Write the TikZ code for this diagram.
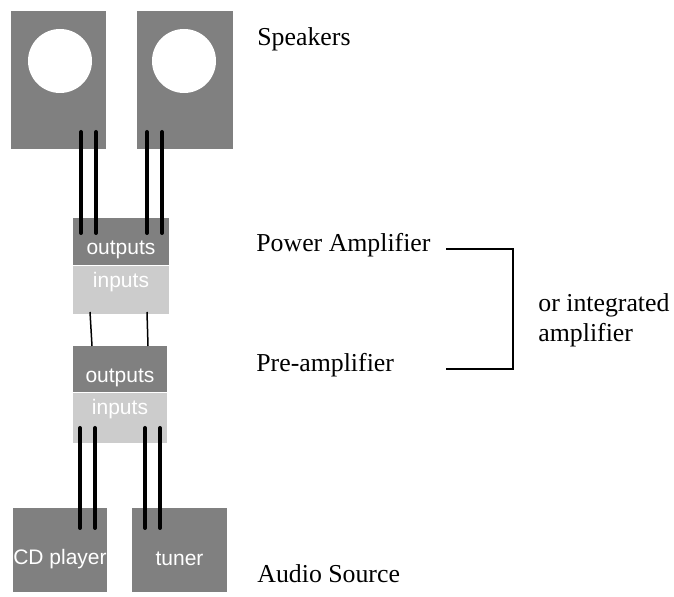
\documentclass[tikz,border=0pt]{standalone}
\usepackage{fontspec}
\setmainfont{Liberation Serif}
\setsansfont{Liberation Sans}
\usepackage{xcolor}
\usepackage{tikz}

\definecolor{boxdark}{RGB}{128,128,128}
\definecolor{boxlight}{RGB}{204,204,204}

\begin{document}
\begin{tikzpicture}[x=0.5pt,y=-0.5pt]
		\tikzset{
			dark/.style={fill=boxdark,draw=none,inner sep=0pt,text=white,font=\sffamily\fontsize{10.3}{12}\selectfont},
			light/.style={fill=boxlight,draw=none,inner sep=0pt,text=white,font=\sffamily\fontsize{10.3}{12}\selectfont},
			boxtext/.style={text=white,inner sep=0pt,font=\sffamily\fontsize{10.5}{12}\selectfont},
			cable/.style={black,line width=2pt,line cap=round},
			wire/.style={black,line width=0.75pt},
			bracket/.style={black,line width=0.7pt},
			label/.style={anchor=west,inner sep=0pt,font=\fontsize{12.9}{15}\selectfont}
		}
		\useasboundingbox (0,0) rectangle (674,597);
		% speakers
		\node [dark,minimum width=47.5pt,minimum height=69pt] (spkL) at (58.5,80) {};
		\node [dark,minimum width=48pt,minimum height=69pt] (spkR) at (185,80) {};
		\fill [white] (60,61) circle (32);
		\fill [white] (184,61) circle (32);
		% power amplifier
		\node [dark,minimum width=48pt,minimum height=23.5pt] (powout) at (121,241.5) {};
		\node [light,minimum width=48pt,minimum height=24pt,anchor=north] (powin) at (powout.south) {};
		\node [boxtext] at (121,250) {outputs};
		\node [boxtext] at (121,282) {inputs};
		% pre-amplifier
		\node [dark,minimum width=47pt,minimum height=23pt] (preout) at (120,369) {};
		\node [light,minimum width=47pt,minimum height=25pt,anchor=north] (prein) at (preout.south) {};
		\node [boxtext] at (120,378) {outputs};
		\node [boxtext] at (120,409) {inputs};
		% sources
		\node [dark,minimum width=47pt,minimum height=42pt] (cd) at (60,550) {};
		\node [dark,minimum width=47.5pt,minimum height=42pt] (tuner) at (179.5,550) {};
		\node [boxtext] at (60,559) {CD player};
		\node [boxtext] at (179.5,559) {tuner};
		% speaker cables
		\draw [cable] (81,132) -- (81,233);
		\draw [cable] (96,132) -- (96,233);
		\draw [cable] (147,132) -- (147,233);
		\draw [cable] (162,132) -- (162,233);
		% interconnect
		\draw [wire] (90,312) -- (92,346);
		\draw [wire] (147,312) -- (148,346);
		% source cables
		\draw [cable] (80,428) -- (80,528);
		\draw [cable] (95,428) -- (95,528);
		\draw [cable] (145,428) -- (145,528);
		\draw [cable] (160,428) -- (160,528);
		% labels
		\node [label] (spk) at (257,39) {Speakers};
		\node [label] (pow) at (256,245) {Power Amplifier};
		\node [label] (pre) at (256,365) {Pre-amplifier};
		\node [label,align=left] (integ) at (538,320) {or integrated\\amplifier};
		\node [label] (src) at (257,574) {Audio Source};
		\coordinate (bA) at (446,249);
		\coordinate (bB) at (446,369);
		\draw [bracket] (bA) -| (513,369) -- (bB);
		\end{tikzpicture}
\end{document}
